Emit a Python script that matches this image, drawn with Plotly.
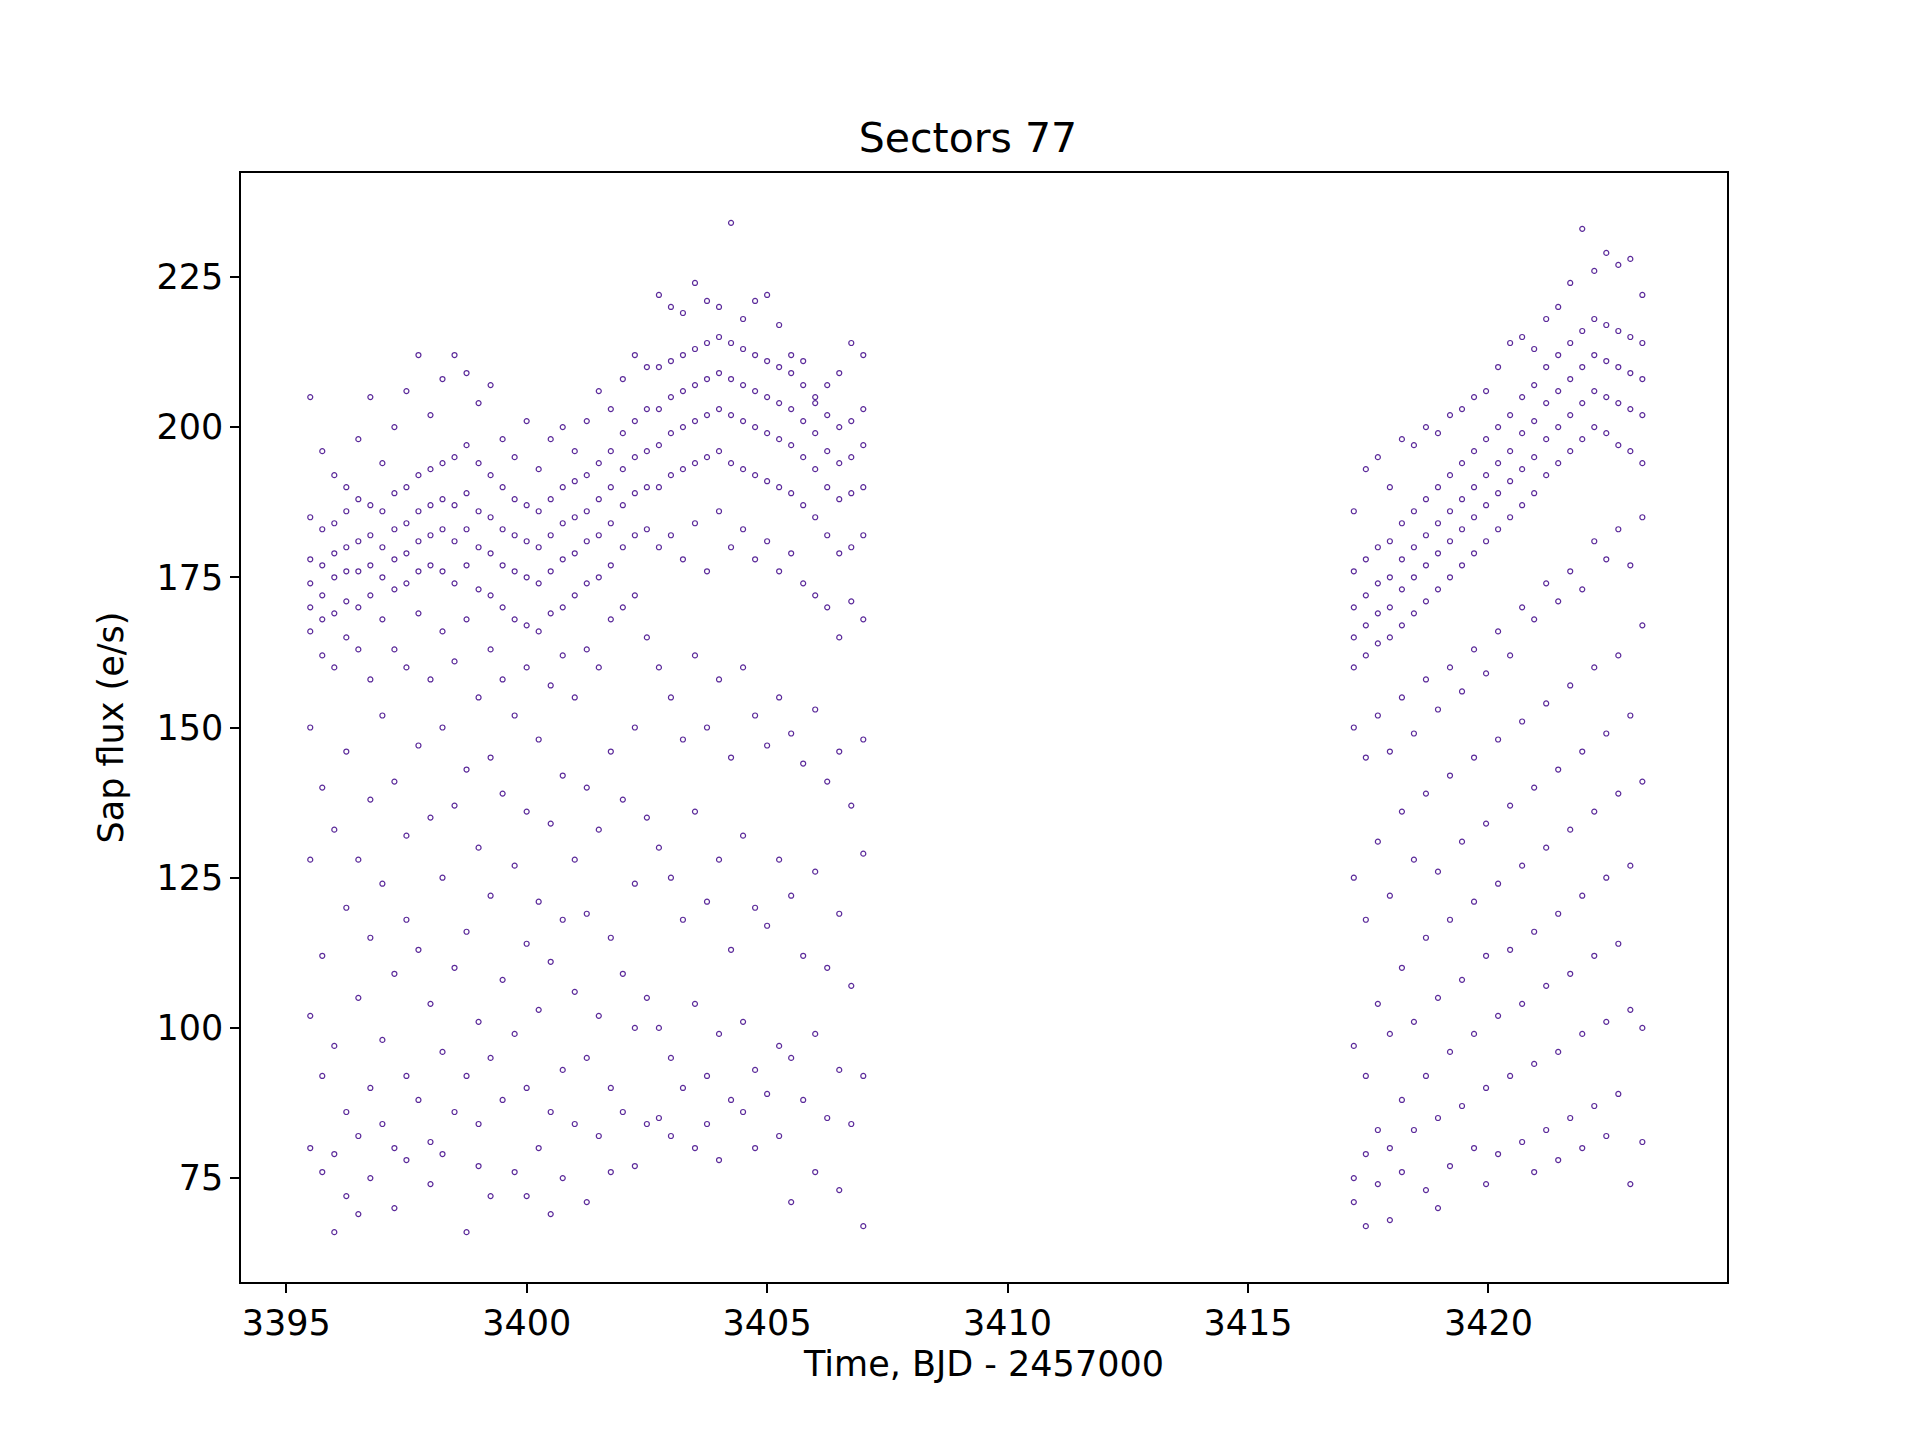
import plotly.graph_objects as go

# time bins (BJD - 2457000) and flux values at each bin
s1_time = [3395.5, 3395.75, 3396.0, 3396.25, 3396.5, 3396.75, 3397.0, 3397.25, 3397.5, 3397.75,
           3398.0, 3398.25, 3398.5, 3398.75, 3399.0, 3399.25, 3399.5, 3399.75, 3400.0, 3400.25,
           3400.5, 3400.75, 3401.0, 3401.25, 3401.5, 3401.75, 3402.0, 3402.25, 3402.5, 3402.75,
           3403.0, 3403.25, 3403.5, 3403.75, 3404.0, 3404.25, 3404.5, 3404.75, 3405.0, 3405.25,
           3405.5, 3405.75, 3406.0, 3406.25, 3406.5, 3406.75, 3407.0]
s1_flux = [
    [205, 185, 178, 174, 170, 166, 150, 128, 102, 80],
    [196, 183, 177, 172, 168, 162, 140, 112, 92, 76],
    [192, 184, 179, 175, 169, 160, 133, 97, 79, 66],
    [190, 186, 180, 176, 171, 165, 146, 120, 86, 72],
    [198, 188, 181, 176, 170, 163, 128, 105, 82, 69],
    [205, 187, 182, 177, 172, 158, 138, 115, 90, 75],
    [194, 186, 180, 175, 168, 152, 124, 98, 84],
    [200, 189, 183, 178, 173, 163, 141, 109, 80, 70],
    [206, 190, 184, 179, 174, 160, 132, 118, 92, 78],
    [212, 192, 186, 181, 176, 169, 147, 113, 88],
    [202, 193, 187, 182, 177, 158, 135, 104, 81, 74],
    [208, 194, 188, 183, 176, 166, 150, 125, 96, 79],
    [212, 195, 187, 181, 174, 161, 137, 110, 86],
    [209, 197, 189, 183, 177, 168, 143, 116, 92, 66],
    [204, 194, 186, 180, 173, 155, 130, 101, 84, 77],
    [207, 192, 185, 179, 172, 163, 145, 122, 95, 72],
    [198, 190, 183, 177, 170, 158, 139, 108, 88],
    [195, 188, 182, 176, 168, 152, 127, 99, 76],
    [201, 187, 181, 175, 167, 160, 136, 114, 90, 72],
    [193, 186, 180, 174, 166, 148, 121, 103, 80],
    [198, 188, 182, 176, 169, 157, 134, 111, 86, 69],
    [200, 190, 184, 178, 170, 162, 142, 118, 93, 75],
    [196, 191, 185, 179, 172, 155, 128, 106, 84],
    [201, 192, 186, 181, 174, 163, 140, 119, 95, 71],
    [206, 194, 188, 182, 175, 160, 133, 102, 82],
    [203, 196, 190, 184, 177, 168, 146, 115, 90, 76],
    [208, 199, 193, 187, 180, 170, 138, 109, 86],
    [212, 201, 195, 189, 182, 172, 150, 124, 100, 77],
    [210, 203, 196, 190, 183, 165, 135, 105, 84],
    [222, 210, 203, 197, 190, 180, 160, 130, 100, 85],
    [220, 211, 205, 199, 192, 182, 155, 125, 95, 82],
    [219, 212, 206, 200, 193, 178, 148, 118, 90],
    [224, 213, 207, 201, 194, 184, 162, 136, 104, 80],
    [221, 214, 208, 202, 195, 176, 150, 121, 92, 84],
    [220, 215, 209, 203, 196, 186, 158, 128, 99, 78],
    [234, 214, 208, 202, 194, 180, 145, 113, 88],
    [218, 213, 207, 201, 193, 183, 160, 132, 101, 86],
    [221, 212, 206, 200, 192, 178, 152, 120, 93, 80],
    [222, 211, 205, 199, 191, 181, 147, 117, 89],
    [217, 210, 204, 198, 190, 176, 155, 128, 97, 82],
    [212, 209, 203, 197, 189, 179, 149, 122, 95, 71],
    [211, 207, 201, 195, 187, 174, 144, 112, 88],
    [205, 204, 199, 193, 185, 172, 153, 126, 99, 76],
    [207, 202, 196, 190, 182, 170, 141, 110, 85],
    [209, 200, 194, 188, 179, 165, 146, 119, 93, 73],
    [214, 201, 195, 189, 180, 171, 137, 107, 84],
    [212, 203, 197, 190, 182, 168, 148, 129, 92, 67],
]
s2_time = [3417.2, 3417.45, 3417.7, 3417.95, 3418.2, 3418.45, 3418.7, 3418.95, 3419.2, 3419.45,
           3419.7, 3419.95, 3420.2, 3420.45, 3420.7, 3420.95, 3421.2, 3421.45, 3421.7, 3421.95,
           3422.2, 3422.45, 3422.7, 3422.95, 3423.2]
s2_flux = [
    [186, 176, 170, 165, 160, 150, 125, 97, 75, 71],
    [193, 178, 172, 167, 162, 145, 118, 92, 79, 67],
    [195, 180, 174, 169, 164, 152, 131, 104, 83, 74],
    [190, 181, 175, 170, 165, 146, 122, 99, 80, 68],
    [198, 184, 178, 173, 167, 155, 136, 110, 88, 76],
    [197, 186, 180, 175, 169, 149, 128, 101, 83],
    [200, 188, 182, 177, 171, 158, 139, 115, 92, 73],
    [199, 190, 184, 179, 173, 153, 126, 105, 85, 70],
    [202, 192, 186, 181, 175, 160, 142, 118, 96, 77],
    [203, 194, 188, 183, 177, 156, 131, 108, 87],
    [205, 196, 190, 185, 179, 163, 145, 121, 99, 80],
    [206, 198, 192, 187, 181, 159, 134, 112, 90, 74],
    [210, 200, 194, 189, 183, 166, 148, 124, 102, 79],
    [214, 202, 196, 191, 185, 162, 137, 113, 92],
    [215, 205, 199, 193, 187, 170, 151, 127, 104, 81],
    [213, 207, 201, 195, 189, 168, 140, 116, 94, 76],
    [218, 210, 204, 198, 192, 174, 154, 130, 107, 83],
    [220, 212, 206, 200, 194, 171, 143, 119, 96, 78],
    [224, 214, 208, 202, 196, 176, 157, 133, 109, 85],
    [233, 216, 210, 204, 198, 173, 146, 122, 99, 80],
    [226, 218, 212, 206, 200, 181, 160, 136, 112, 87],
    [229, 217, 211, 205, 199, 178, 149, 125, 101, 82],
    [227, 216, 210, 204, 197, 183, 162, 139, 114, 89],
    [228, 215, 209, 203, 196, 177, 152, 127, 103, 74],
    [222, 214, 208, 202, 194, 185, 167, 141, 100, 81],
]

xs, ys = [], []
for t, vals in zip(s1_time + s2_time, s1_flux + s2_flux):
    for v in vals:
        xs.append(t)
        ys.append(v)

purple = '#5b2a9a'
fig = go.Figure()
fig.add_trace(go.Scatter(x=xs, y=ys, mode='markers',
                         marker=dict(symbol='circle-open', size=5, color=purple,
                                     line=dict(width=1.2, color=purple))))

axis_style = dict(showgrid=False, zeroline=False, showline=True, linecolor='black', linewidth=1.5,
                  mirror=True, ticks='outside', ticklen=9, tickwidth=1.5, tickcolor='black',
                  tickfont=dict(size=35, color='black'))
fig.update_xaxes(range=[3394.06, 3424.96], tickvals=[3395, 3400, 3405, 3410, 3415, 3420],
                 title=dict(text='Time, BJD - 2457000', font=dict(size=35, color='black'), standoff=10),
                 **axis_style)
fig.update_yaxes(range=[57.7, 242.3], tickvals=[75, 100, 125, 150, 175, 200, 225],
                 title=dict(text='Sap flux (e/s)', font=dict(size=35, color='black'), standoff=22),
                 **axis_style)
fig.update_layout(width=1920, height=1440, plot_bgcolor='white', paper_bgcolor='white',
                  font=dict(family='DejaVu Sans'), showlegend=False,
                  title=dict(text='Sectors 77', x=0.5, xanchor='center', y=0.92,
                             font=dict(size=41, color='black')),
                  margin=dict(l=233, r=201, t=165, b=166))
fig.write_html("out.html")
